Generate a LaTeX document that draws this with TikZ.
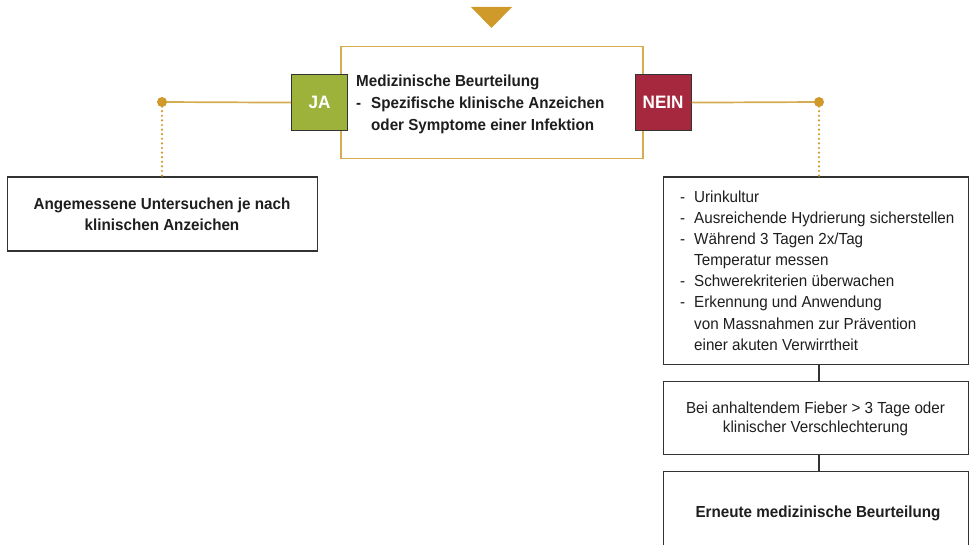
\documentclass[tikz,border=0pt]{standalone}
\usepackage{fontspec}
\setmainfont{Liberation Sans}[FakeStretch=0.95]
\definecolor{goldline}{RGB}{214,172,80}
\definecolor{golddot}{RGB}{208,154,42}
\definecolor{jagreen}{RGB}{156,178,58}
\definecolor{neinred}{RGB}{166,40,63}
\definecolor{boxline}{RGB}{51,51,51}
\definecolor{txtcol}{RGB}{30,30,30}
\begin{document}
\begin{tikzpicture}[x=1pt,y=-1pt,
  reg/.style={inner sep=0pt, anchor=base west, text=txtcol, font=\fontsize{16}{19}\selectfont},
  bld/.style={reg, font=\fontsize{16}{19}\selectfont\bfseries},
  regc/.style={reg, anchor=base},
  bldc/.style={bld, anchor=base},
  graybox/.style={draw=boxline, line width=1.1pt, fill=white, anchor=north west, inner sep=0pt},
  tag/.style={draw=boxline, line width=1.2pt, anchor=north west, minimum width=56, minimum height=56, inner sep=0pt, text=white, font=\fontsize{18}{20}\selectfont\bfseries},
  goldconn/.style={draw=goldline, line width=1.7pt},
  dotconn/.style={draw=golddot, line width=2.4pt, line cap=round, dash pattern=on 0pt off 4.6pt},
  plainconn/.style={draw=boxline, line width=1.1pt}]
\useasboundingbox (0,0) rectangle (969,545);
\clip (0,0) rectangle (969,545);
\fill[white] (0,0) rectangle (969,545);

% top triangle
\fill[golddot] (471,7) -- (512,7) -- (491.5,28) -- cycle;

% central box
\node[draw=goldline, line width=1.5pt, anchor=north west, minimum width=302, minimum height=112, inner sep=0pt] (main) at (340,46) {};
\node[bld] (m1) at (356,87) {Medizinische Beurteilung};
\node[bld] (m2d) at (356,109) {-};
\node[bld] (m2) at (371,109) {Spezifische klinische Anzeichen};
\node[bld] (m3) at (371,130.5) {oder Symptome einer Infektion};

% JA / NEIN tags
\node[tag, fill=jagreen] (ja) at (291,74) {JA};
\node[tag, fill=neinred] (nein) at (634.5,74) {NEIN};

% branch points
\coordinate (dotL) at (162,102);
\coordinate (dotR) at (819,102);

% left box
\node[graybox, minimum width=310, minimum height=74] (lbox) at (7,176.5) {};
\node[bldc] (l1) at (162,210) {Angemessene Untersuchen je nach};
\node[bldc] (l2) at (162,231) {klinischen Anzeichen};

% right boxes
\node[graybox, minimum width=305, minimum height=187.5] (r1) at (663,176.5) {};
\node[graybox, minimum width=305, minimum height=73] (r2) at (663,380.5) {};
\node[graybox, minimum width=305, minimum height=100] (r3) at (663,470.5) {};

% list text
\foreach \yy/\dsh/\t in {203/1/{Urinkultur}, 224/1/{Ausreichende Hydrierung sicherstellen}, 245/1/{Während 3 Tagen 2x/Tag}, 266/0/{Temperatur messen}, 287/1/{Schwerekriterien überwachen}, 308/1/{Erkennung und Anwendung}, 329/0/{von Massnahmen zur Prävention}, 350/0/{einer akuten Verwirrtheit}}{
  \ifnum\dsh=1 \node[reg] at (680,\yy) {-};\fi
  \node[reg] at (694,\yy) {\t};
}

\node[regc] (b1) at (815.5,413) {Bei anhaltendem Fieber > 3 Tage oder};
\node[regc] (b2) at (815.5,432) {klinischer Verschlechterung};
\node[bldc] (e1) at (818,517) {Erneute medizinische Beurteilung};

% connectors
\draw[goldconn] (ja.west) -- (dotL);
\draw[goldconn] (nein.east) -- (dotR);
\draw[dotconn] (dotL) -- ([yshift=-3]lbox.north -| dotL);
\draw[dotconn] (dotR) -- ([yshift=-3]r1.north -| dotR);
\fill[golddot] (dotL) circle (5);
\fill[golddot] (dotR) circle (5);
\draw[plainconn] (r1.south -| dotR) -- (r2.north -| dotR);
\draw[plainconn] (r2.south -| dotR) -- (r3.north -| dotR);
\end{tikzpicture}
\end{document}
